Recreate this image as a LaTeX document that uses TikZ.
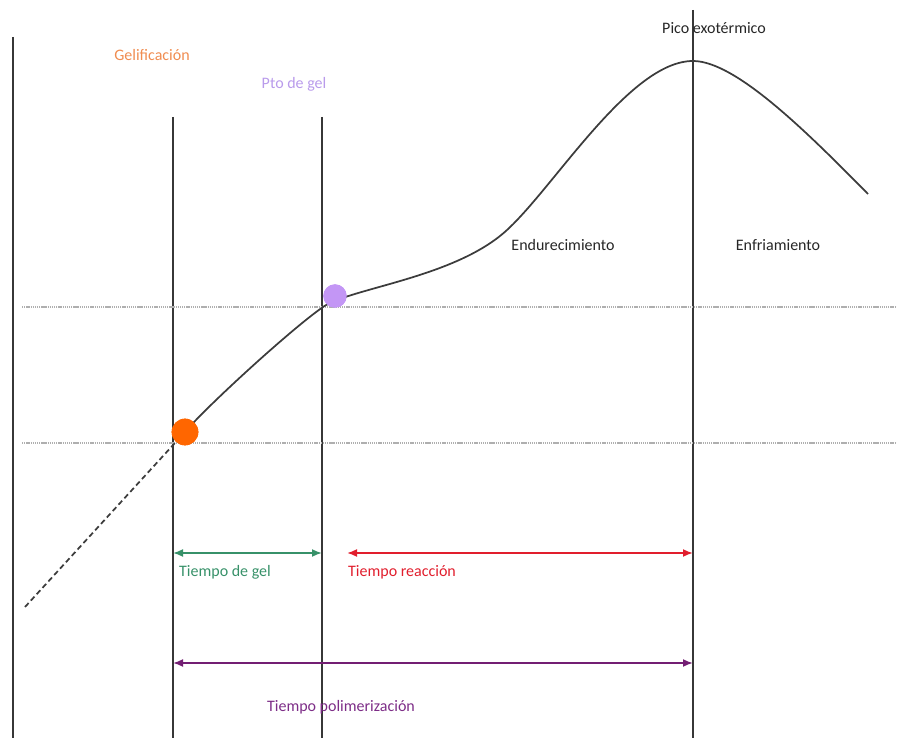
\documentclass[tikz,border=0pt]{standalone}
\usepackage{xcolor}
\usepackage{fontspec}
\setmainfont{Carlito}
\usepackage{tikz}
\usetikzlibrary{arrows.meta}

\definecolor{gelorange}{RGB}{255,102,0}
\definecolor{geltext}{RGB}{240,140,80}
\definecolor{ptopurple}{RGB}{195,150,245}
\definecolor{ptotext}{RGB}{185,155,235}
\definecolor{gelgreen}{RGB}{55,145,105}
\definecolor{reacred}{RGB}{225,30,45}
\definecolor{polipurple}{RGB}{115,30,115}
\definecolor{politext}{RGB}{125,45,135}

\begin{document}
\begin{tikzpicture}[x=0.75pt,y=0.75pt,yscale=-1,xscale=1,
  vline/.style={color={rgb, 255:red, 55; green, 55; blue, 55}, line width=1.4},
  hguide/.style={color={rgb, 255:red, 175; green, 175; blue, 175}, line width=1.1, dash pattern=on 1pt off 0.6pt},
  curveline/.style={color={rgb, 255:red, 60; green, 60; blue, 60}, line width=1.3},
  txt/.style={inner sep=0.75pt, align=center, font=\fontsize{12}{14}\selectfont},
  span/.style={line width=1.3, {Latex[length=7.5pt,width=6pt]}-{Latex[length=7.5pt,width=6pt]}},
  dot/.style={circle, inner sep=0pt, minimum size=19}]
\useasboundingbox (0,0) rectangle (897,738);

%Straight Lines (vertical)
\draw [vline] (13,37) -- (13,738) ;
\draw [vline] (173,117) -- (173,738) ;
\draw [vline] (322,117) -- (322,738) ;
\draw [vline] (693,10) -- (693,738) ;

%Straight Lines (dotted guides)
\draw [hguide] (22,307) -- (897,307) ;
\draw [hguide] (22,443) -- (897,443) ;

%Shape: Circle (gel points)
\node [dot, minimum size=20, fill=gelorange] (gdot) at (185,432) {};
\node [dot, minimum size=17.5, fill=ptopurple] (pdot) at (335,296) {};

%Curve Lines
\draw [curveline, dash pattern=on 4pt off 2.5pt] (25,607) -- (gdot.center) ;
\draw [curveline] (gdot.center) .. controls (205,408) and (290,330) .. (323,307)
  .. controls (350,288) and (455,278) .. (507,230)
  .. controls (555,186) and (630,61) .. (693,61)
  .. controls (735,61) and (805,130) .. (868,194) ;

% redraw dots on top
\node [dot, minimum size=20, fill=gelorange] at (gdot) {};
\node [dot, minimum size=17.5, fill=ptopurple] at (pdot) {};

%Coordinates for the spans
\coordinate (gelL) at (173,553);
\coordinate (gelR) at (322,553);
\coordinate (reacL) at (347,553);
\coordinate (reacR) at (693,553);
\coordinate (poliL) at (173,663);
\coordinate (poliR) at (693,663);

%Arrows
\draw [span, gelgreen] (gelL) -- (gelR) ;
\draw [span, reacred] (reacL) -- (reacR) ;
\draw [span, polipurple] (poliL) -- (poliR) ;

% Text Node
\draw (152,55) node [txt, text=geltext] (gelif) {Gelificación};
% Text Node
\draw (294,84) node [txt, text=ptotext] (ptogel) {Pto de gel};
% Text Node
\draw (714,28) node [txt, text=black!85] (pico) {Pico exotérmico};
% Text Node
\draw (563,245) node [txt, text=black!85] (endur) {Endurecimiento};
% Text Node
\draw (778,245) node [txt, text=black!85] (enfri) {Enfriamiento};
% Text Node
\draw (225,572) node [txt, text=gelgreen] (tgel) {Tiempo de gel};
% Text Node
\draw (402,572) node [txt, text=reacred] (treac) {Tiempo reacción};
% Text Node
\draw (341,707) node [txt, text=politext] (tpoli) {Tiempo polimerización};

\end{tikzpicture}
\end{document}
